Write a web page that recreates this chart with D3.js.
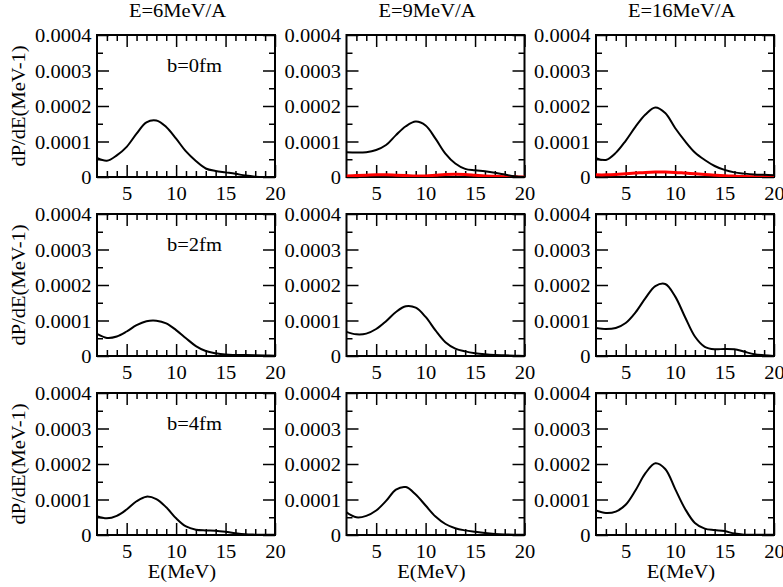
<!DOCTYPE html>
<html>
<head>
<meta charset="utf-8">
<script src="https://cdn.jsdelivr.net/npm/d3@7"></script>
<style>
  body { margin: 0; background: #fff; }
  svg { display: block; }
  svg text { font-family: "Liberation Serif", "Times New Roman", serif; font-size: 19px; fill: #000; }
</style>
</head>
<body>
<svg id="chart" width="783" height="587"></svg>
<script>
// energies on the x axis (MeV)
const energies = [2, 3, 4, 5, 6, 7, 8, 9, 10, 11, 12, 13, 14, 15, 16, 17, 18, 19, 20];
const beamLabels = ["E=6MeV/A", "E=9MeV/A", "E=16MeV/A"];
const impactLabels = ["b=0fm", "b=2fm", "b=4fm"];
const xTicks = [5, 10, 15, 20];
const xMinor = [3, 4, 6, 7, 8, 9, 11, 12, 13, 14, 16, 17, 18, 19];
const yTicks = [0, 0.0001, 0.0002, 0.0003, 0.0004];
const yMinor = [0.00005, 0.00015, 0.00025, 0.00035];

// dP/dE values, in units of 1e-5 MeV^-1
const unit = 1e-5;
const e6b0 = [5.4, 4.6, 6.1, 8.5, 12.2, 15.4, 15.9, 14.1, 10.8, 7.2, 4.5, 2.4, 1.7, 1.3, 0.9, 0.4, 0.1, 0, 0];
const e9b0 = [7.0, 6.9, 7.0, 7.6, 9.0, 11.8, 14.3, 15.6, 14.5, 10.8, 6.6, 3.8, 2.3, 1.9, 1.6, 1.2, 0.7, 0.2, 0];
const e16b0 = [5.3, 4.8, 6.8, 10.2, 14.2, 17.6, 19.6, 18.0, 13.8, 10.1, 6.9, 4.8, 3.1, 2.0, 1.3, 0.95, 0.7, 0.6, 0.5];
const e9b0Red = [0.3, 0.4, 0.5, 0.6, 0.6, 0.5, 0.4, 0.3, 0.3, 0.5, 0.7, 0.8, 0.7, 0.5, 0.3, 0.2, 0.1, 0.05, 0];
const e16b0Red = [0.6, 0.6, 0.7, 0.9, 1.1, 1.3, 1.4, 1.4, 1.3, 1.1, 0.9, 0.7, 0.5, 0.35, 0.25, 0.15, 0.1, 0.05, 0];
const e6b2 = [6.2, 5.1, 5.5, 6.9, 8.7, 9.8, 9.95, 9.2, 7.3, 5.0, 2.8, 1.4, 0.75, 0.4, 0.3, 0.25, 0.2, 0.15, 0.1];
const e9b2 = [6.8, 6.1, 6.3, 7.6, 9.8, 12.4, 14.0, 13.6, 11.0, 7.2, 3.9, 2.1, 1.3, 0.8, 0.5, 0.3, 0.2, 0.1, 0];
const e16b2 = [7.9, 7.6, 7.9, 9.3, 12.3, 16.3, 19.7, 20.3, 16.8, 11.0, 5.5, 2.6, 1.9, 2.0, 1.9, 1.2, 0.5, 0.2, 0];
const e6b4 = [5.3, 4.7, 5.4, 7.2, 9.5, 10.8, 10.1, 7.8, 4.7, 2.4, 1.5, 1.3, 1.2, 0.9, 0.5, 0.2, 0.1, 0.05, 0.05];
const e9b4 = [6.4, 5.0, 5.4, 6.9, 9.6, 12.8, 13.5, 11.4, 8.3, 5.2, 3.1, 1.9, 1.3, 0.9, 0.55, 0.3, 0.15, 0.08, 0.05];
const e16b4 = [6.9, 6.2, 6.6, 8.5, 12.6, 17.4, 20.2, 18.6, 13.0, 7.4, 3.4, 1.8, 1.4, 1.1, 0.4, 0.1, 0.05, 0.05, 0.1];

const panels = [
  { row: 0, col: 0, black: e6b0 },
  { row: 0, col: 1, black: e9b0, red: e9b0Red },
  { row: 0, col: 2, black: e16b0, red: e16b0Red },
  { row: 1, col: 0, black: e6b2 },
  { row: 1, col: 1, black: e9b2 },
  { row: 1, col: 2, black: e16b2 },
  { row: 2, col: 0, black: e6b4 },
  { row: 2, col: 1, black: e9b4 },
  { row: 2, col: 2, black: e16b4 }
];

const left0 = 97, colStep = 249.5, top0 = 35, rowStep = 179;
const pw = 178, ph = 142;
const stretch = 1.08; // the glyphs in the original are a bit wide

const svg = d3.select("#chart");

const x = d3.scaleLinear().domain([2, 20]).range([0, pw]);
const y = d3.scaleLinear().domain([0, 0.0004]).range([ph, 0]);

const yFormat = d => (d === 0 ? "0" : d3.format(".4f")(d));

const line = d3
  .line()
  .x(d => x(d[0]))
  .y(d => y(d[1] * unit))
  .curve(d3.curveCatmullRom.alpha(0.5));

const tidy = (axis, width) => {
  axis.attr("font-family", null).attr("font-size", null);
  axis.select(".domain").remove();
  axis.selectAll("line").attr("stroke-width", width);
};

const drawPanel = p => {
  const x0 = left0 + p.col * colStep;
  const y0 = top0 + p.row * rowStep;
  const g = svg.append("g").attr("transform", `translate(${x0},${y0})`);

  // major ticks, with labels on bottom and left
  g.append("g")
    .attr("transform", `translate(0,${ph})`)
    .call(d3.axisBottom(x).tickValues(xTicks).tickSize(-12).tickFormat(d3.format("d")))
    .call(a => tidy(a, 1.5))
    .call(a =>
      a.selectAll("text")
        .attr("y", null)
        .attr("dy", null)
        .attr("transform", `translate(0,22.5) scale(${stretch},1)`)
    );

  g.append("g")
    .call(d3.axisLeft(y).tickValues(yTicks).tickSize(-12).tickFormat(yFormat))
    .call(a => tidy(a, 1.5))
    .call(a =>
      a.selectAll("text")
        .attr("x", null)
        .attr("dy", null)
        .attr("transform", `translate(-5.5,6.5) scale(${stretch},1)`)
    );

  g.append("g")
    .call(d3.axisTop(x).tickValues(xTicks).tickSize(-12).tickFormat(""))
    .call(a => tidy(a, 1.5));

  g.append("g")
    .attr("transform", `translate(${pw},0)`)
    .call(d3.axisRight(y).tickValues(yTicks).tickSize(-12).tickFormat(""))
    .call(a => tidy(a, 1.5));

  // minor ticks
  g.append("g")
    .attr("transform", `translate(0,${ph})`)
    .call(d3.axisBottom(x).tickValues(xMinor).tickSize(-6).tickFormat(""))
    .call(a => tidy(a, 1.5));
  g.append("g")
    .call(d3.axisTop(x).tickValues(xMinor).tickSize(-6).tickFormat(""))
    .call(a => tidy(a, 1.5));
  g.append("g")
    .call(d3.axisLeft(y).tickValues(yMinor).tickSize(-6).tickFormat(""))
    .call(a => tidy(a, 1.5));
  g.append("g")
    .attr("transform", `translate(${pw},0)`)
    .call(d3.axisRight(y).tickValues(yMinor).tickSize(-6).tickFormat(""))
    .call(a => tidy(a, 1.5));

  g.append("rect")
    .attr("width", pw)
    .attr("height", ph)
    .attr("fill", "none")
    .attr("stroke", "#000")
    .attr("stroke-width", 2);

  const clipId = `clip-${p.row}-${p.col}`;
  g.append("clipPath").attr("id", clipId)
    .append("rect").attr("width", pw).attr("height", ph);

  const curves = g.append("g").attr("clip-path", `url(#${clipId})`);

  if (p.red) {
    curves.append("path")
      .datum(energies.map((e, i) => [e, p.red[i]]))
      .attr("d", line)
      .attr("fill", "none")
      .attr("stroke", "#ff0000")
      .attr("stroke-width", 3);
  }

  curves.append("path")
    .datum(energies.map((e, i) => [e, p.black[i]]))
    .attr("d", line)
    .attr("fill", "none")
    .attr("stroke", "#000")
    .attr("stroke-width", 2);

  if (p.row === 0) {
    svg.append("text")
      .attr("transform", `translate(${x0 + 32},17) scale(${stretch},1)`)
      .text(beamLabels[p.col]);
  }
  if (p.row === 2) {
    svg.append("text")
      .attr("text-anchor", "middle")
      .attr("transform", `translate(${x0 + pw / 2 - 4},578) scale(${stretch},1)`)
      .text("E(MeV)");
  }
  if (p.col === 0) {
    svg.append("text")
      .attr("transform", `translate(${x0 + 70},${y0 + 37}) scale(${stretch},1)`)
      .text(impactLabels[p.row]);
    svg.append("text")
      .attr("text-anchor", "middle")
      .attr("transform", `translate(25,${y0 + ph / 2}) rotate(-90) scale(${stretch},1)`)
      .text("dP/dE(MeV-1)");
  }
};

panels.forEach(drawPanel);
</script>
</body>
</html>
